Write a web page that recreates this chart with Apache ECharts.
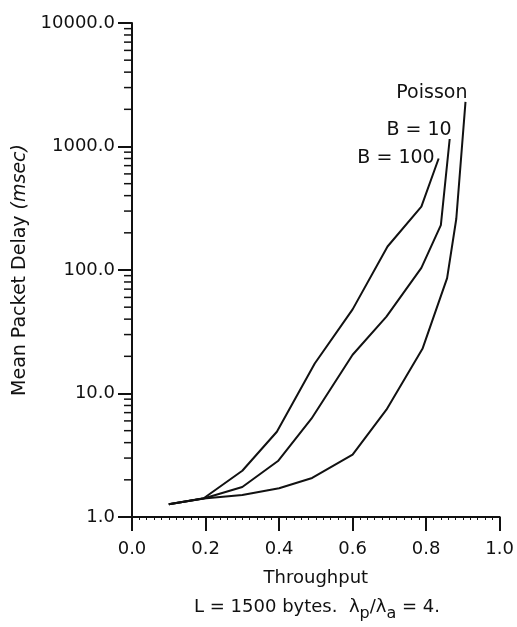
<!DOCTYPE html>
<html>
<head>
<meta charset="utf-8">
<script src="https://cdn.jsdelivr.net/npm/echarts@6/dist/echarts.min.js"></script>
<style>html,body{margin:0;padding:0;background:#fff;}#c{width:517px;height:627px;}</style>
</head>
<body>
<div id="c"></div>
<script>
// ---- data ----
const poissonX = [0.1, 0.195, 0.3, 0.4, 0.49, 0.6, 0.692, 0.79, 0.857, 0.882, 0.907];
const poissonY = [1.27, 1.41, 1.51, 1.71, 2.07, 3.2, 7.4, 23, 86, 260, 2300];
const b10X = [0.1, 0.195, 0.3, 0.397, 0.488, 0.6, 0.692, 0.787, 0.84, 0.864];
const b10Y = [1.27, 1.41, 1.75, 2.84, 6.25, 20.6, 41.9, 104, 231, 1150];
const b100X = [0.1, 0.195, 0.3, 0.394, 0.497, 0.6, 0.695, 0.787, 0.834];
const b100Y = [1.27, 1.42, 2.37, 4.9, 17.5, 48, 155, 326, 800];
const seriesNames = ['Poisson', 'B = 10', 'B = 100'];
const xTicks = [0, 0.2, 0.4, 0.6, 0.8, 1.0];
const yTicks = [1, 10, 100, 1000, 10000];
const yMinorTicks = [2,3,4,5,6,7,8,9,20,30,40,50,60,70,80,90,200,300,400,500,600,700,800,900,2000,3000,4000,5000,6000,7000,8000,9000];
const xAxisTitle = 'Throughput';
const yAxisTitle = 'Mean Packet Delay ';
const yAxisTitleUnit = '(msec)';

const FONT = 'DejaVu Sans';
const INK = '#111';

function zip(xs, ys) { return xs.map((x, i) => [x, ys[i]]); }

const labelOffsets = [[2, -9], [2, -9], [-4, 0]];

function lineSeries(name, xs, ys, idx) {
  const last = [xs[xs.length - 1], ys[ys.length - 1]];
  return {
    name: name,
    type: 'line',
    data: zip(xs, ys),
    symbol: 'none',
    lineStyle: { color: INK, width: 2 },
    itemStyle: { color: INK },
    silent: true,
    clip: false,
    markPoint: {
      symbol: 'circle',
      symbolSize: 0,
      silent: true,
      data: [{ coord: last, value: name }],
      label: {
        show: true,
        formatter: name,
        position: [0, 0],
        align: 'right',
        verticalAlign: 'middle',
        offset: labelOffsets[idx],
        fontFamily: FONT,
        fontSize: 19,
        color: INK
      }
    }
  };
}

const chart = echarts.init(document.getElementById('c'), null, { renderer: 'canvas' });

chart.setOption({
  animation: false,
  backgroundColor: '#fff',
  grid: { left: 132, right: 17, top: 23, bottom: 110, containLabel: false },
  xAxis: {
    type: 'value',
    min: xTicks[0],
    max: xTicks[xTicks.length - 1],
    interval: 0.2,
    name: xAxisTitle,
    nameLocation: 'middle',
    nameGap: 52,
    nameTextStyle: { fontFamily: FONT, fontSize: 18, color: INK },
    axisLine: { show: true, onZero: false, lineStyle: { color: INK, width: 2 } },
    axisTick: { show: true, length: 14, lineStyle: { color: INK, width: 2 } },
    minorTick: { show: true, splitNumber: 10, length: 3, lineStyle: { color: INK, width: 1 } },
    splitLine: { show: false },
    axisLabel: {
      fontFamily: FONT, fontSize: 18, color: INK, margin: 23,
      formatter: v => v.toFixed(1)
    }
  },
  yAxis: {
    type: 'log',
    logBase: 10,
    min: yTicks[0],
    max: yTicks[yTicks.length - 1],
    name: yAxisTitle + '{i|' + yAxisTitleUnit + '}',
    nameLocation: 'middle',
    nameRotate: 90,
    nameGap: 96,
    nameTextStyle: {
      fontFamily: FONT, fontSize: 19, color: INK,
      rich: { i: { fontFamily: FONT, fontSize: 19, fontStyle: 'italic', color: INK } }
    },
    axisLine: { show: true, onZero: false, lineStyle: { color: INK, width: 2 } },
    axisTick: { show: true, length: 14, lineStyle: { color: INK, width: 2 } },
    minorTick: { show: false },
    splitLine: { show: false },
    axisLabel: {
      fontFamily: FONT, fontSize: 18, color: INK, margin: 17,
      formatter: v => Number(v).toFixed(1)
    }
  },
  graphic: [{
    type: 'text',
    x: 317,
    y: 607,
    style: {
      text: 'L = 1500 bytes.  λ{s|p}/λ{s|a} = 4.',
      fontFamily: FONT,
      fontSize: 18,
      fill: INK,
      align: 'center',
      verticalAlign: 'middle',
      rich: {
        s: { fontFamily: FONT, fontSize: 16, fill: INK, padding: [14, 0, 0, 0] }
      }
    }
  }],
  series: [
    lineSeries(seriesNames[0], poissonX, poissonY, 0),
    lineSeries(seriesNames[1], b10X, b10Y, 1),
    lineSeries(seriesNames[2], b100X, b100Y, 2),
    {
      type: 'custom',
      silent: true,
      clip: false,
      data: yMinorTicks.map(v => [0, v]),
      renderItem: function (params, api) {
        const p = api.coord([api.value(0), api.value(1)]);
        return {
          type: 'line',
          shape: { x1: p[0] - 8, y1: p[1], x2: p[0], y2: p[1] },
          style: { stroke: INK, lineWidth: 1.5 }
        };
      }
    }
  ]
});
</script>
</body>
</html>
